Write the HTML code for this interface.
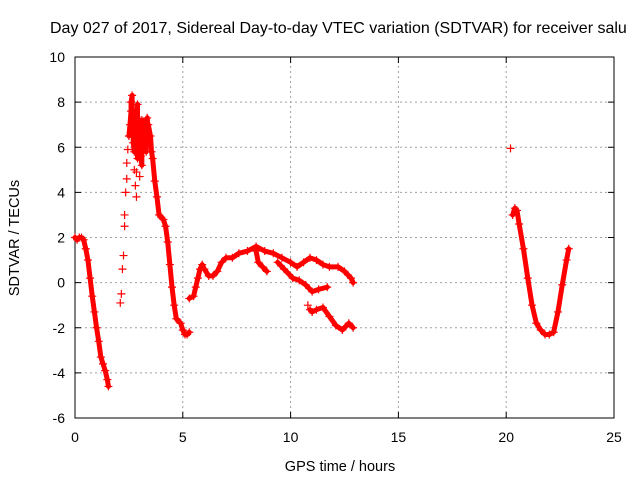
<!DOCTYPE html>
<html><head><meta charset="utf-8"><style>
body{margin:0;background:#fff}
svg{display:block;font-family:"Liberation Sans",sans-serif}
</style></head><body>
<svg id="chart" width="640" height="480" viewBox="0 0 640 480">
<rect width="640" height="480" fill="#fff"/>
<text x="50" y="33" font-size="16" fill="#000">Day 027 of 2017, Sidereal Day-to-day VTEC variation (SDTVAR) for receiver salu</text>
<g id="grid"></g>
<g id="axes"></g>
<g id="marks"></g>
<text x="340" y="471" text-anchor="middle" font-size="14.5">GPS time / hours</text>
<text transform="translate(19,238) rotate(-90)" text-anchor="middle" font-size="14.5">SDTVAR / TECUs</text>
</svg>
<script>
const xTicks=[0,5,10,15,20,25];
const yTicks=[-6,-4,-2,0,2,4,6,8,10];
const trackA=[[0,2.0],[0.1,1.9],[0.2,2.0],[0.3,2.0],[0.4,1.9],[0.5,1.5],[0.6,1.0],[0.7,0.2],[0.8,-0.6],[0.9,-1.3],[1.0,-2.0],[1.1,-2.6],[1.2,-3.3],[1.3,-3.6],[1.4,-3.9],[1.5,-4.3],[1.55,-4.6]];
const trackB=[[3.3,7.2],[3.4,7.0],[3.5,6.5],[3.55,5.8],[3.6,5.5],[3.7,4.5],[3.8,3.8],[3.9,3.0],[4.0,2.9],[4.1,2.8],[4.2,2.5],[4.3,1.8],[4.4,0.8],[4.5,-0.2],[4.6,-1.0],[4.7,-1.6],[4.9,-1.8],[5.0,-2.1],[5.1,-2.3],[5.2,-2.3],[5.3,-2.2]];
const scatterB=[[2.1,-0.9],[2.15,-0.5],[2.2,0.6],[2.25,1.2],[2.3,2.5],[2.3,3.0],[2.35,4.0],[2.4,4.6],[2.4,5.3],[2.45,5.9],[2.5,6.5],[2.55,7.0],[2.6,7.6],[2.6,8.0],[2.65,8.3],[2.7,7.3],[2.7,6.2],[2.75,5.0],[2.8,4.3],[2.85,3.8],[2.9,7.9],[2.9,5.5],[3.0,6.0],[3.0,4.7],[3.1,5.2],[3.1,7.2],[3.15,6.8],[3.2,6.3],[3.25,7.0],[3.3,5.8],[3.35,7.3],[3.4,6.2],[3.0,7.2],[2.95,6.6],[3.05,5.6],[2.85,4.9],[2.75,5.8],[2.65,6.8]];
const trackC=[[5.3,-0.7],[5.5,-0.6],[5.6,-0.2],[5.7,0.2],[5.8,0.6],[5.9,0.8],[6.0,0.6],[6.2,0.3],[6.4,0.3],[6.6,0.5],[6.8,0.9],[7.0,1.1],[7.3,1.1],[7.6,1.3],[8.0,1.4],[8.4,1.6],[8.8,1.4],[9.2,1.3],[9.6,1.1],[10.0,0.9],[10.3,0.7],[10.6,0.9],[10.9,1.1],[11.2,1.0],[11.5,0.8],[11.8,0.7],[12.2,0.7],[12.5,0.5],[12.8,0.2],[12.9,0.0]];
const branch1=[[8.4,1.4],[8.5,0.9],[8.7,0.7],[8.9,0.5]];
const branch2=[[9.4,0.9],[9.7,0.6],[10.1,0.2],[10.4,0.1],[10.7,-0.1],[11.0,-0.4],[11.3,-0.3],[11.7,-0.2]];
const trackE=[[10.9,-1.2],[11.0,-1.3],[11.2,-1.2],[11.5,-1.1],[11.8,-1.5],[12.1,-1.9],[12.4,-2.1],[12.7,-1.8],[12.9,-2.0]];
const trackD=[[20.3,3.0],[20.4,3.3],[20.5,3.2],[20.6,2.6],[20.8,1.5],[21.0,0.2],[21.2,-1.0],[21.4,-1.8],[21.6,-2.1],[21.8,-2.3],[22.0,-2.3],[22.2,-2.2],[22.4,-1.3],[22.6,-0.1],[22.8,1.0],[22.9,1.5]];
const outliers=[[20.2,5.95],[10.8,-1.0]];

const X0=75,X1=614,Y0=418,Y1=57;
const xs=t=>X0+(t-0)/(25-0)*(X1-X0);
const ys=v=>Y0-(v-(-6))/(10-(-6))*(Y0-Y1);
const NS='http://www.w3.org/2000/svg';
const grid=document.getElementById('grid'),axes=document.getElementById('axes'),marks=document.getElementById('marks');
function mk(tag,attrs,parent){const e=document.createElementNS(NS,tag);for(const k in attrs)e.setAttribute(k,attrs[k]);parent.appendChild(e);return e;}

xTicks.forEach(t=>{
  const x=xs(t);
  if(t>0&&t<25){const g=mk('line',{x1:x,y1:Y0,x2:x,y2:Y1,stroke:'#a0a0a0','stroke-dasharray':'2,3'},grid);
  
  }
  const tx=mk('text',{x:x,y:Y0+24,'text-anchor':'middle','font-size':'14'},axes);tx.textContent=t;
  
  
  mk('line',{x1:x,y1:Y0,x2:x,y2:Y0-6,stroke:'#000'},axes);
  mk('line',{x1:x,y1:Y1,x2:x,y2:Y1+6,stroke:'#000'},axes);
});
yTicks.forEach(v=>{
  const y=ys(v);
  if(v>-6&&v<10){const g=mk('line',{x1:X0,y1:y,x2:X1,y2:y,stroke:'#a0a0a0','stroke-dasharray':'2,3'},grid);
  
  }
  const tx=mk('text',{x:X0-10,y:y+5,'text-anchor':'end','font-size':'14'},axes);tx.textContent=v;
  
  
  mk('line',{x1:X0,y1:y,x2:X0+6,y2:y,stroke:'#000'},axes);
  mk('line',{x1:X1,y1:y,x2:X1-6,y2:y,stroke:'#000'},axes);
});
const frame=mk('rect',{x:X0,y:Y1,width:X1-X0,height:Y0-Y1,fill:'none',stroke:'#000'},axes);



function band(arr){
  const p=mk('polyline',{points:arr.map(d=>xs(d[0])+','+ys(d[1])).join(' '),fill:'none',stroke:'#f00','stroke-width':'5','stroke-linejoin':'round','stroke-linecap':'round'},marks);
  
  
}
function plus(arr,col){
  arr.forEach(d=>{
    const x=xs(d[0]),y=ys(d[1]);
    const p=mk('path',{d:`M${x-4},${y}h8M${x},${y-4}v8`,stroke:col,'stroke-width':'1.2'},marks);
    
    
  });
}
[trackA,trackB,trackC,branch1,branch2,trackE,trackD].forEach(a=>{band(a);plus(a,'#f00');});
band(scatterB.slice(10,38).sort((a,b)=>a[0]-b[0]).filter(d=>d[1]>5));
plus(scatterB,'#f00');
plus(outliers,'#f00');
</script>
</body></html>
